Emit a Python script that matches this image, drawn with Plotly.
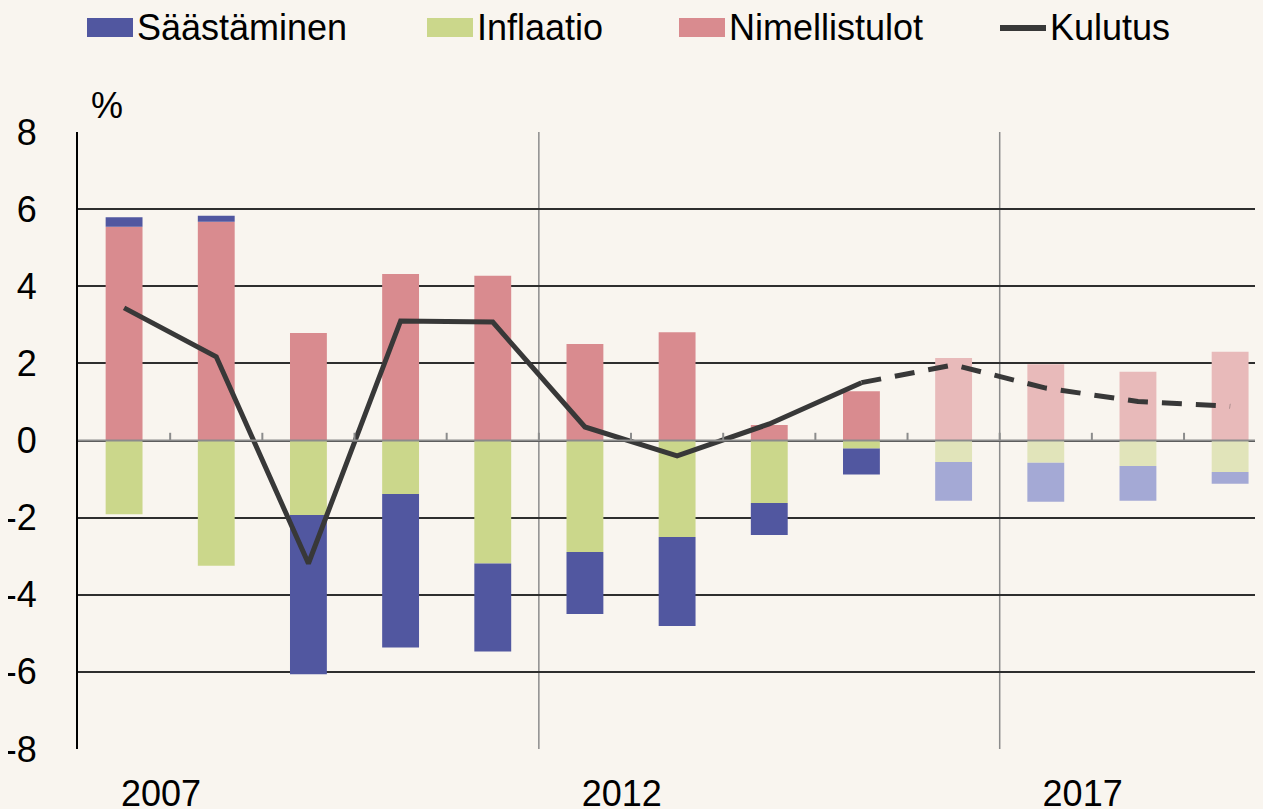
import plotly.graph_objects as go

years = list(range(2007, 2020))
nimellistulot = [5.54, 5.67, 2.79, 4.32, 4.27, 2.50, 2.81, 0.40, 1.28, 2.14, 1.98, 1.78, 2.30]
inflaatio = [-1.91, -3.25, -1.93, -1.39, -3.19, -2.89, -2.50, -1.62, -0.21, -0.56, -0.58, -0.66, -0.82]
saastaminen = [0.25, 0.16, -4.13, -3.98, -2.28, -1.61, -2.31, -0.83, -0.67, -1.00, -1.01, -0.90, -0.30]
kulutus = [3.44, 2.17, -3.19, 3.10, 3.07, 0.35, -0.40, 0.43, 1.50, 1.96, 1.36, 1.01, 0.89]
forecast_bars_from = 2016
forecast_line_from = 2015
label_years = [2007, 2012, 2017]
y_ticks = [8, 6, 4, 2, 0, -2, -4, -6, -8]
legend_names = ["Säästäminen", "Inflaatio", "Nimellistulot", "Kulutus"]

C_BLUE, C_BLUE_F = "#5157A0", "#A4A9D5"
C_GREEN, C_GREEN_F = "#CBD78B", "#E1E4BA"
C_PINK, C_PINK_F = "#D98B8F", "#E8BABA"
C_LINE = "#383838"
BG = "#F9F5EF"
FONT = "Liberation Sans, Arial, sans-serif"

# the page body adds an 8px margin; size the figure so it fills the window
OFF = 8
W, H = 1263 - OFF, 809 - OFF
ML, MR, MT, MB = 78 - OFF, 0, 132 - OFF, 60
PW, PH = W - ML - MR, H - MT - MB


def colors(base, light):
    return [light if y >= forecast_bars_from else base for y in years]


fig = go.Figure()
fig.add_trace(go.Bar(x=years, y=nimellistulot, name="Nimellistulot",
                     marker=dict(color=colors(C_PINK, C_PINK_F), line=dict(width=0)),
                     width=0.4, showlegend=False))
fig.add_trace(go.Bar(x=years, y=inflaatio, name="Inflaatio",
                     marker=dict(color=colors(C_GREEN, C_GREEN_F), line=dict(width=0)),
                     width=0.4, showlegend=False))
fig.add_trace(go.Bar(x=years, y=saastaminen, name="Säästäminen",
                     marker=dict(color=colors(C_BLUE, C_BLUE_F), line=dict(width=0)),
                     width=0.4, showlegend=False))

solid_x = [y for y in years if y <= forecast_line_from]
solid_y = [k for y, k in zip(years, kulutus) if y <= forecast_line_from]
dash_x = [y for y in years if y >= forecast_line_from]
dash_y = [k for y, k in zip(years, kulutus) if y >= forecast_line_from]
fig.add_trace(go.Scatter(x=solid_x, y=solid_y, mode="lines", name="Kulutus",
                         line=dict(color=C_LINE, width=5), showlegend=False))
fig.add_trace(go.Scatter(x=dash_x, y=dash_y, mode="lines", name="Kulutus",
                         line=dict(color=C_LINE, width=5, dash="20px,14px"),
                         showlegend=False))

shapes = []
annotations = []
# zero line with small upward ticks at category boundaries
shapes.append(dict(type="line", xref="paper", x0=0, x1=1, yref="y", y0=0, y1=0,
                   line=dict(color="#8C8C8C", width=2), layer="above"))
for y in years[:-1]:
    shapes.append(dict(type="line", xref="x", x0=y + 0.5, x1=y + 0.5, yref="y",
                       y0=0, y1=0.2, line=dict(color="#8C8C8C", width=2), layer="above"))
# vertical separators before labelled years
for ly in label_years[1:]:
    shapes.append(dict(type="line", xref="x", x0=ly - 0.5, x1=ly - 0.5, yref="y",
                       y0=-8, y1=8, line=dict(color="#8C8C8C", width=1.5), layer="below"))


# legend drawn at window pixel positions converted to paper coordinates
def px_x(p):
    return (p - OFF - ML) / PW


def px_y(p):
    return 1 + (MT - (p - OFF)) / PH


legend_colors = [C_BLUE, C_GREEN, C_PINK, C_LINE]
legend_sym_x = [87, 427, 679, 1000]
for name, col, sx in zip(legend_names, legend_colors, legend_sym_x):
    if name == "Kulutus":
        shapes.append(dict(type="line", xref="paper", yref="paper",
                           x0=px_x(sx), x1=px_x(sx + 46), y0=px_y(28), y1=px_y(28),
                           line=dict(color=col, width=6)))
    else:
        shapes.append(dict(type="rect", xref="paper", yref="paper",
                           x0=px_x(sx), x1=px_x(sx + 46), y0=px_y(18), y1=px_y(37),
                           fillcolor=col, line=dict(width=0)))
    annotations.append(dict(text=name, xref="paper", yref="paper",
                            x=px_x(sx + 48), y=px_y(27), xanchor="left", yanchor="middle",
                            showarrow=False, font=dict(size=36), xshift=0))

annotations.append(dict(text="%", xref="paper", yref="paper", x=px_x(107), y=px_y(106),
                        xanchor="center", yanchor="middle", showarrow=False,
                        font=dict(size=36)))

fig.update_layout(
    barmode="relative",
    width=W, height=H,
    paper_bgcolor=BG, plot_bgcolor=BG,
    margin=dict(l=ML, r=MR, t=MT, b=MB, autoexpand=False),
    font=dict(family=FONT, size=36, color="black"),
    shapes=shapes,
    annotations=annotations,
    showlegend=False,
)
fig.update_xaxes(range=[2006.5, 2006.5 + PW / 92.17], tickvals=[y + 0.4 for y in label_years],
                 ticktext=[str(y) for y in label_years], showgrid=False, zeroline=False,
                 ticks="", ticklabelstandoff=20, showline=False)
fig.update_yaxes(range=[-8, 8], tickvals=y_ticks, ticktext=[str(v) for v in y_ticks],
                 showgrid=True, gridcolor="#2E2E2E", gridwidth=1.5, zeroline=False,
                 showline=True, linecolor="black", linewidth=2, ticks="",
                 ticklabelstandoff=32)

fig.write_html("out.html",
               post_script="document.body.style.backgroundColor='%s';" % BG)
